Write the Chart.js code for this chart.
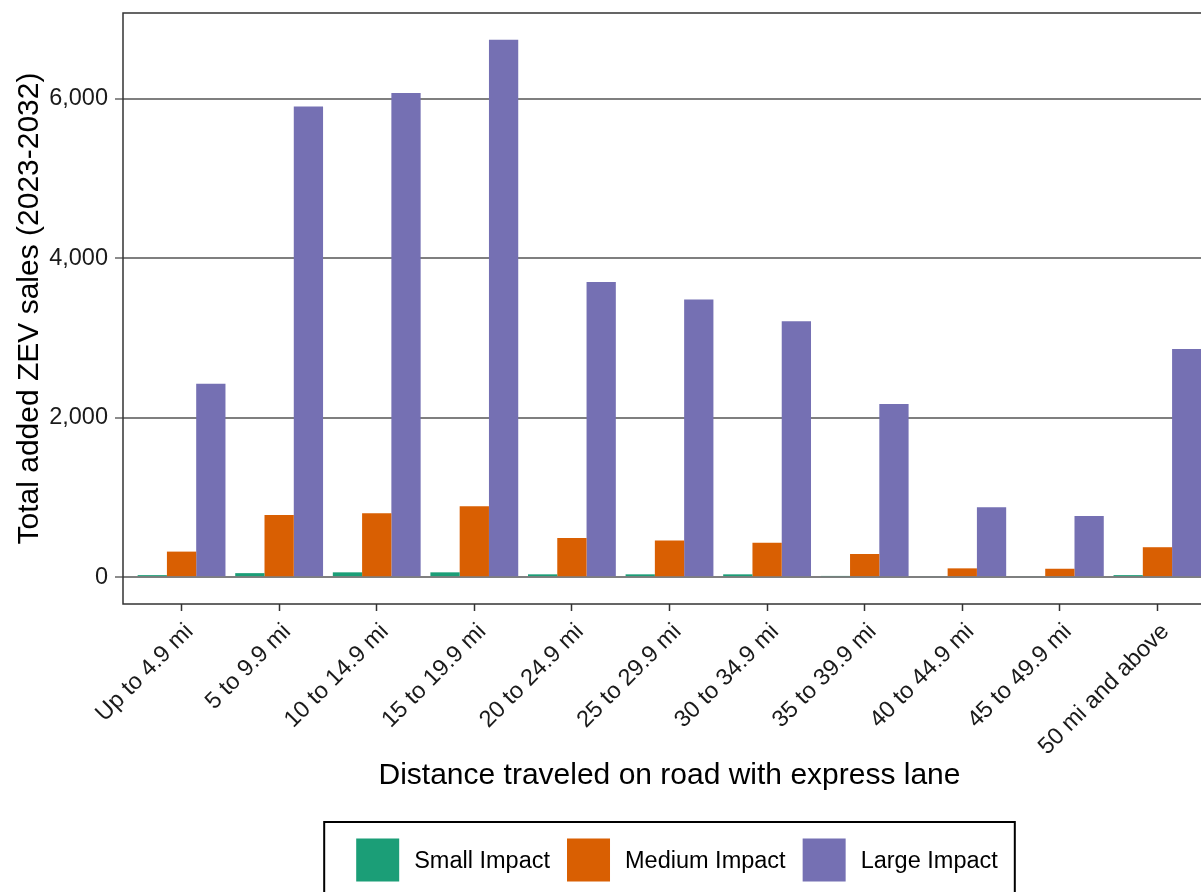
<!DOCTYPE html>
<html><head><meta charset="utf-8">
<script src="https://cdn.jsdelivr.net/npm/chart.js@4.4.1/dist/chart.umd.min.js"></script>
<style>
html,body{margin:0;padding:0;background:#fff;overflow:hidden;width:1201px;height:892px;}
#wrap{position:absolute;left:0;top:0;width:1230px;height:905px;}
</style></head><body>
<div id="wrap"><canvas id="c" width="1230" height="905"></canvas></div>
<script>
const categories = ['Up to 4.9 mi','5 to 9.9 mi','10 to 14.9 mi','15 to 19.9 mi','20 to 24.9 mi','25 to 29.9 mi','30 to 34.9 mi','35 to 39.9 mi','40 to 44.9 mi','45 to 49.9 mi','50 mi and above'];
const smallImpact  = [25, 50, 60, 60, 35, 35, 35, 15, 12, 12, 25];
const mediumImpact = [320, 780, 800, 890, 490, 460, 430, 290, 110, 105, 375];
const largeImpact  = [2425, 5900, 6070, 6740, 3700, 3480, 3210, 2170, 875, 765, 2860];
const yTicks = [0, 2000, 4000, 6000];
const seriesNames = ['Small Impact', 'Medium Impact', 'Large Impact'];
const seriesColors = ['#1B9E77', '#D95F02', '#7570B3'];
const xTitle = 'Distance traveled on road with express lane';
const yTitle = 'Total added ZEV sales (2023-2032)';

const FONT = "'Liberation Sans', Arial, sans-serif";
const toXY = arr => arr.map((v, i) => ({x: i, y: v}));

const framePlugin = {
  id: 'frame',
  afterDraw(chart) {
    const {ctx, chartArea: a} = chart;
    ctx.save();
    ctx.strokeStyle = '#333333';
    ctx.lineWidth = 1.5;
    ctx.strokeRect(a.left, a.top, a.right - a.left, a.bottom - a.top);
    ctx.restore();
  }
};

const legendPlugin = {
  id: 'boxLegend',
  afterDraw(chart) {
    const {ctx, chartArea: a} = chart;
    ctx.save();
    ctx.font = '23.5px ' + FONT;
    const sq = 43, gapText = 15, gapItem = 17, padL = 32, padR = 17;
    const ds = chart.data.datasets;
    const widths = ds.map(d => ctx.measureText(d.label).width);
    let total = padL + padR;
    widths.forEach((w, i) => { total += sq + gapText + w + (i < ds.length - 1 ? gapItem : 0); });
    const cx = (a.left + a.right) / 2;
    const boxL = cx - total / 2, boxT = 822, boxH = 76;
    ctx.strokeStyle = '#000';
    ctx.lineWidth = 2;
    ctx.strokeRect(boxL, boxT, total, boxH);
    let x = boxL + padL;
    const cy = boxT + 38;
    ds.forEach((d, i) => {
      ctx.fillStyle = d.backgroundColor;
      ctx.fillRect(x, cy - sq / 2, sq, sq);
      x += sq + gapText;
      ctx.fillStyle = '#000';
      ctx.textBaseline = 'middle';
      ctx.textAlign = 'left';
      ctx.fillText(d.label, x, cy + 1.5);
      x += widths[i] + gapItem;
    });
    ctx.restore();
  }
};

const datasets = [smallImpact, mediumImpact, largeImpact].map((arr, i) => ({
  label: seriesNames[i],
  data: toXY(arr),
  backgroundColor: seriesColors[i],
  borderWidth: 0,
  categoryPercentage: 0.9,
  barPercentage: 1.0
}));

new Chart(document.getElementById('c'), {
  type: 'bar',
  data: { datasets },
  plugins: [framePlugin, legendPlugin],
  options: {
    responsive: false,
    animation: false,
    devicePixelRatio: 1,
    locale: 'en-US',
    layout: { padding: { left: 0, top: 13, right: 14, bottom: 111 } },
    plugins: { legend: { display: false }, tooltip: { enabled: false } },
    scales: {
      x: {
        type: 'linear',
        min: -0.6,
        max: 10.6,
        offset: false,
        afterBuildTicks: s => { s.ticks = categories.map((_, i) => ({value: i})); },
        afterFit: s => { s.height = 190; s.paddingLeft = 0; s.paddingRight = 0; },
        grid: { display: true, offset: false, drawOnChartArea: false, drawTicks: true, tickLength: 7, tickColor: '#333333', tickWidth: 1.5 },
        border: { display: false },
        ticks: {
          autoSkip: false,
          minRotation: 45,
          maxRotation: 45,
          padding: 7,
          labelOffset: 8,
          color: '#1a1a1a',
          font: { family: FONT, size: 23.5 },
          callback: v => categories[v]
        },
        title: { display: true, text: xTitle, color: '#000', font: { family: FONT, size: 30 }, padding: { top: 0, bottom: 0 } }
      },
      y: {
        min: -337,
        max: 7074,
        afterBuildTicks: s => { s.ticks = yTicks.map(v => ({value: v})); },
        afterFit: s => { s.width = 123; s.paddingTop = 0; s.paddingBottom = 0; },
        grid: { color: '#7f7f7f', lineWidth: 2, drawTicks: true, tickLength: 8, tickColor: '#666666', tickWidth: 1.5 },
        border: { display: false },
        ticks: { padding: 7, color: '#1a1a1a', font: { family: FONT, size: 23.5 } },
        title: { display: true, text: yTitle, color: '#000', font: { family: FONT, size: 30 }, padding: { top: 12, bottom: 0 } }
      }
    }
  }
});
</script></body></html>
